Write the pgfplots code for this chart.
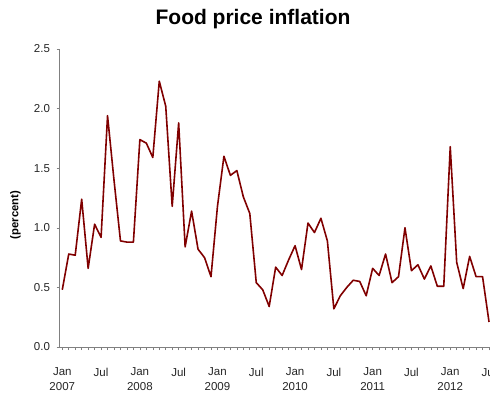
\documentclass[border=0pt]{standalone}
\usepackage{pgfplots}
\pgfplotsset{compat=1.18}
\usepackage{fontspec}
\setmainfont{Liberation Sans}
\definecolor{linered}{RGB}{128,0,0}
\definecolor{axgray}{RGB}{128,128,128}
\begin{document}
\begin{tikzpicture}[x=1pt,y=1pt]
\path[use as bounding box] (0,0) rectangle (490,397);
\node[font=\bfseries\fontsize{21}{25}\selectfont] at (253,378) {Food price inflation};
\node[font=\bfseries\fontsize{11.3}{13}\selectfont, rotate=90] at (15.5,182) {(percent)};
\begin{axis}[
  at={(59.5pt,50pt)}, anchor=south west,
  scale only axis, width=430.5pt, height=298pt,
  xmin=-0.43, xmax=66.15, ymin=0, ymax=2.5,
  axis x line*=bottom, axis y line*=left,
  axis line style={axgray, line width=1pt, -},
  ytick={0,0.5,1,1.5,2,2.5},
  yticklabel style={/pgf/number format/fixed, /pgf/number format/fixed zerofill, /pgf/number format/precision=1, /pgf/number format/assume math mode=true, xshift=-3pt},
  xtick={0,6,12,18,24,30,36,42,48,54,60,66},
  xticklabels={{Jan\\2007},Jul,{Jan\\2008},Jul,{Jan\\2009},Jul,{Jan\\2010},Jul,{Jan\\2011},Jul,{Jan\\2012},Jul},
  xticklabel style={align=center, yshift=-14.5pt},
  minor xtick={0,...,66},
  tick align=outside, major tick length=3pt, minor tick length=3pt,
  tick style={axgray, line width=0.6pt},
  every tick label/.append style={font=\fontsize{11.5}{15}\selectfont, text=black!85},
  clip=false,
]
\addplot[linered, line width=1.6pt, line join=round, mark=none] coordinates {
(0,0.48) (1,0.78) (2,0.77) (3,1.24) (4,0.66) (5,1.03) (6,0.92) (7,1.94)
(8,1.40) (9,0.89) (10,0.88) (11,0.88) (12,1.74) (13,1.71) (14,1.59) (15,2.23)
(16,2.02) (17,1.18) (18,1.88) (19,0.84) (20,1.14) (21,0.82) (22,0.75) (23,0.59)
(24,1.18) (25,1.60) (26,1.44) (27,1.48) (28,1.26) (29,1.12) (30,0.54) (31,0.48)
(32,0.34) (33,0.67) (34,0.60) (35,0.73) (36,0.85) (37,0.65) (38,1.04) (39,0.96)
(40,1.08) (41,0.89) (42,0.32) (43,0.43) (44,0.50) (45,0.56) (46,0.55) (47,0.43)
(48,0.66) (49,0.60) (50,0.78) (51,0.54) (52,0.59) (53,1.00) (54,0.64) (55,0.69)
(56,0.57) (57,0.68) (58,0.51) (59,0.51) (60,1.68) (61,0.71) (62,0.49) (63,0.76)
(64,0.59) (65,0.59) (66,0.21)
};
\end{axis}
\end{tikzpicture}
\end{document}
